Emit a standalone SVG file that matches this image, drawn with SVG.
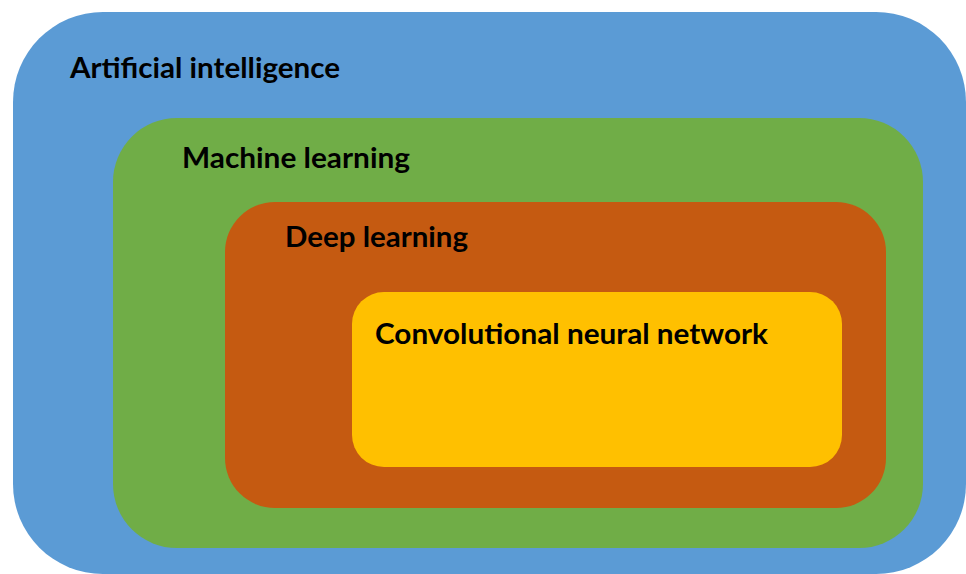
<svg xmlns="http://www.w3.org/2000/svg" width="966" height="574" viewBox="0 0 966 574">
<style>
.lbl{font-family:"Lato","Open Sans","Liberation Sans",sans-serif;font-weight:bold;font-size:29px;fill:#000}
</style>
<rect width="966" height="574" fill="#fff"/>
<g id="ai">
<rect x="13" y="12" width="953" height="562" rx="90" ry="90" fill="#5B9BD5"/>
<text class="lbl" x="70" y="78" textLength="270" lengthAdjust="spacingAndGlyphs">Artificial intelligence</text>
</g>
<g id="ml">
<rect x="113" y="118" width="810" height="430" rx="64" ry="64" fill="#70AD47"/>
<text class="lbl" x="182" y="168" textLength="228" lengthAdjust="spacingAndGlyphs">Machine learning</text>
</g>
<g id="dl">
<rect x="225" y="202" width="661" height="306" rx="50" ry="50" fill="#C55A11"/>
<text class="lbl" x="285" y="247" textLength="183" lengthAdjust="spacingAndGlyphs">Deep learning</text>
</g>
<g id="cnn">
<rect x="352" y="292" width="490" height="175" rx="32" ry="32" fill="#FFC000"/>
<text class="lbl" x="375" y="344" textLength="393" lengthAdjust="spacingAndGlyphs">Convolutional neural network</text>
</g>
<g id="connectors"/>
</svg>
